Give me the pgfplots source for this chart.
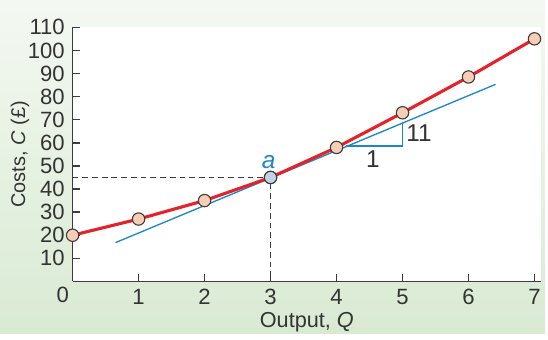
\documentclass[border=0pt]{standalone}
\usepackage{pgfplots}
\pgfplotsset{compat=1.18}
\usepackage{fontspec}
\setmainfont{Liberation Sans}

\definecolor{bgtop}{HTML}{F4F8F2}
\definecolor{bgbot}{HTML}{D9EAD3}
\definecolor{costred}{HTML}{E42229}
\definecolor{tanblue}{HTML}{1D87C6}
\definecolor{peach}{HTML}{F8CDB6}
\definecolor{pointa}{HTML}{C3D2E5}
\definecolor{txt}{HTML}{333333}
\definecolor{axgray}{HTML}{3C3C3C}

\begin{document}
\begin{tikzpicture}
% page background (548 x 335 px at 0.45pt/px, axis origin at px (73,283))
\shade[top color=bgtop, bottom color=bgbot] (-32.85pt,-23.4pt) rectangle (213.75pt,127.35pt);
\begin{axis}[
  scale only axis,
  width=212pt, height=115pt,
  xmin=0, xmax=7.1, ymin=0, ymax=110,
  axis lines*=left,
  axis background/.style={fill=white},
  axis line style={axgray, line width=0.7pt},
  tick style={axgray, line width=0.7pt},
  tick align=inside,
  major tick length=3.4pt,
  xtick={1,...,7},
  ytick={10,20,...,110},
  /pgf/number format/assume math mode=true,
  tick label style={text=txt, font=\fontsize{10}{12}\selectfont},
  label style={text=txt},
  xlabel={Output, \textit{Q}},
  ylabel={Costs, \textit{C} (£)},
  xlabel style={at={(axis description cs:0.5,0)}, anchor=center, yshift=-18.5pt,
    font=\fontsize{9.8}{12}\selectfont},
  ylabel style={at={([xshift=-23.8pt]axis description cs:0,0.5)}, anchor=center, rotate=0,
    font=\fontsize{9}{11}\selectfont},
  clip=false,
]
% dashed guides to point a
\addplot[axgray, line width=0.5pt, dash pattern=on 2.6pt off 1.8pt] coordinates {(0,45) (3,45) (3,0)};
% tangent at a and slope triangle
\addplot[tanblue, line width=0.6pt] coordinates {(0.65,16.8) (6.41,85.3)};
\addplot[tanblue, line width=0.6pt] coordinates {(4.14,58.6) (5,58.6) (5,68.8)};
% total cost curve
\addplot[costred, line width=1.4pt, mark=*, mark size=2.8pt,
  mark options={fill=peach, draw=axgray, line width=0.5pt}]
  coordinates {(0,20) (1,27) (2,35) (3,45) (4,58) (5,73) (6,88.5) (7,105)};
\addplot[only marks, mark=*, mark size=2.8pt,
  mark options={fill=pointa, draw=axgray, line width=0.5pt}]
  coordinates {(3,45)};
\node[text=tanblue, font=\fontsize{11}{13}\selectfont\itshape] at (axis cs:2.97,51.7) {a};
\node[text=txt, font=\fontsize{11}{13}\selectfont] at (axis cs:4.55,53) {1};
\node[text=txt, font=\fontsize{11}{13}\selectfont] at (axis cs:5.25,64) {11};
\node[text=txt, font=\fontsize{10}{12}\selectfont] at (axis cs:0,0) [xshift=-4.5pt, yshift=-6.3pt] {0};
\end{axis}
\end{tikzpicture}
\end{document}
